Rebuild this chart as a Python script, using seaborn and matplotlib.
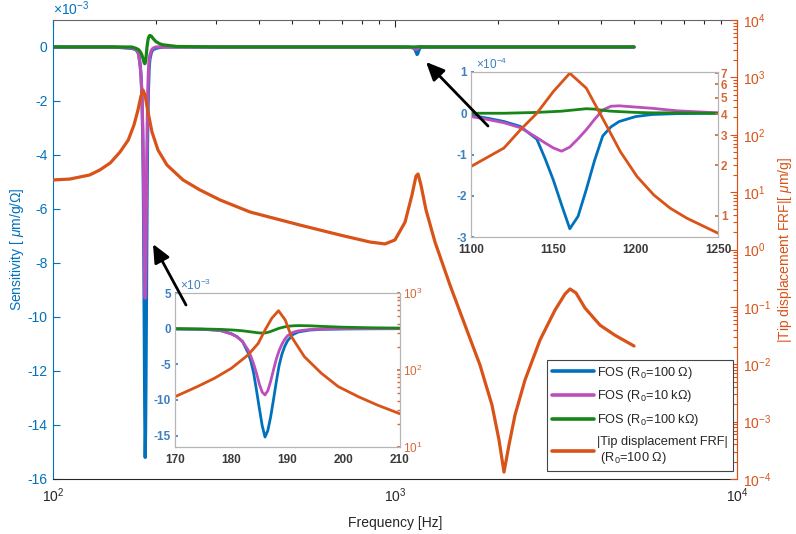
import numpy as np
import pandas as pd
import matplotlib
matplotlib.use("Agg")
import matplotlib.pyplot as plt
import seaborn as sns
from matplotlib.lines import Line2D
from matplotlib.ticker import LogLocator, NullFormatter, FixedLocator, FixedFormatter

# ---------------- data ----------------
series_names = ["FOS (R$_0$=100 $\\Omega$)", "FOS (R$_0$=10 k$\\Omega$)", "FOS (R$_0$=100 k$\\Omega$)"]
frf_name = "|Tip displacement FRF|\n (R$_0$=100 $\\Omega$)"

# first resonance region, sensitivity in units of 1e-3
freq_a = [100, 150, 170, 175, 178, 180, 181, 182, 183, 183.5, 184, 184.5, 185, 185.5, 186, 186.5,
          187, 187.5, 188, 188.5, 189, 189.5, 190, 191, 192, 194, 196, 200, 205, 210, 230, 300, 500, 800, 1000]
blue_a = [0, 0, -0.05, -0.1, -0.25, -0.7, -1.1, -1.8, -3.4, -4.6, -6.3, -8.7, -11.2, -13.6, -15.2, -14.3,
          -12.4, -10.0, -7.5, -5.2, -3.6, -2.5, -1.7, -0.8, -0.45, -0.2, -0.1, -0.05, -0.02, 0, 0, 0, 0, 0, 0]
magenta_a = [0, 0, -0.03, -0.08, -0.25, -0.75, -1.15, -1.8, -3.0, -3.9, -5.0, -6.3, -7.8, -8.9, -9.3, -8.7,
             -7.4, -5.8, -4.3, -3.1, -2.2, -1.5, -1.0, -0.5, -0.3, -0.12, -0.05, 0, 0, 0, 0, 0, 0, 0, 0]
green_a = [0, 0, 0, -0.05, -0.1, -0.18, -0.23, -0.3, -0.4, -0.45, -0.5, -0.56, -0.6, -0.62, -0.6, -0.52,
           -0.4, -0.25, -0.1, 0.05, 0.15, 0.25, 0.32, 0.4, 0.43, 0.4, 0.32, 0.2, 0.12, 0.08, 0.02, 0, 0, 0, 0]

# second resonance region, sensitivity in units of 1e-4
freq_b = [1100, 1110, 1120, 1130, 1140, 1145, 1150, 1155, 1160, 1165, 1170, 1175, 1180, 1185, 1190, 1200, 1210, 1225, 1250]
blue_b = [-0.05, -0.12, -0.2, -0.32, -0.63, -1.1, -1.62, -2.22, -2.8, -2.5, -1.85, -1.15, -0.55, -0.33, -0.2, -0.08, -0.03, -0.01, 0]
magenta_b = [-0.08, -0.15, -0.23, -0.35, -0.59, -0.72, -0.84, -0.92, -0.82, -0.62, -0.4, -0.15, 0.08, 0.17, 0.18, 0.15, 0.12, 0.06, 0.01]
green_b = [0, 0, 0, 0.01, 0.02, 0.03, 0.04, 0.05, 0.07, 0.09, 0.11, 0.1, 0.07, 0.05, 0.04, 0.02, 0.01, 0.01, 0]

# tail, sensitivity in units of 1e-3
freq_c = [1300, 2000, 3000, 5000]
blue_c = [0, 0, 0, 0]
magenta_c = [0, 0, 0, 0]
green_c = [0, 0, 0, 0]

# main tip displacement FRF magnitude [um/g]
frf_freq = [100, 112, 128, 137, 147, 157, 166, 172.5, 177.2, 180.8, 183.3, 185.8, 189.6, 194.7, 202.8, 215.4,
            240, 269, 308, 377, 527, 690, 845, 935, 1000, 1070, 1121, 1152, 1168, 1191, 1232, 1309, 1448,
            1602, 1772, 1921, 2014, 2083, 2154, 2243, 2399, 2655, 2937, 3142, 3249, 3382, 3594, 3976, 4398, 5000]
frf_mag = [16.3, 16.9, 19.9, 24.3, 32.2, 50, 81, 148, 270, 473, 603, 493, 249, 112, 54, 29.7,
           16.3, 10.9, 7.3, 4.5, 2.67, 1.79, 1.35, 1.25, 1.47, 3.0, 8.9, 19.1, 20.7, 13.3, 4.9, 1.35, 0.24,
           0.048, 0.0097, 0.00195, 4.8e-4, 1.32e-4, 3.9e-4, 1.3e-3, 5.3e-3, 0.0265, 0.088, 0.168, 0.205,
           0.175, 0.0955, 0.048, 0.032, 0.0208]

# inset FRF curves
in1_freq = [170, 174, 177, 180, 183, 184.8, 186, 187.2, 188.4, 189.6, 190.7, 193, 196, 199, 202.6, 206, 210]
in1_mag = [45, 61, 78, 105, 157, 222, 330, 469, 589, 446, 271, 149, 91, 61, 45, 35, 27]
in2_freq = [1100, 1120, 1130, 1140, 1150, 1160, 1170, 1182.6, 1190.7, 1200.8, 1211, 1221, 1231, 1250]
in2_mag = [1.96, 2.52, 3.23, 4.05, 5.44, 6.98, 5.7, 3.38, 2.40, 1.71, 1.33, 1.11, 0.97, 0.79]

left_ticks = [-16, -14, -12, -10, -8, -6, -4, -2, 0]
in1_yticks = [-15, -10, -5, 0, 5]
in1_xticks = [170, 180, 190, 200, 210]
in2_yticks = [-3, -2, -1, 0, 1]
in2_xticks = [1100, 1150, 1200, 1250]
in2_rticks = [1, 2, 3, 4, 5, 6, 7]

# ---------------- style ----------------
sns.set_theme(style="white")
plt.rcParams["font.family"] = ["Liberation Sans", "DejaVu Sans"]
plt.rcParams["mathtext.fontset"] = "custom"
plt.rcParams["mathtext.rm"] = "Liberation Sans"
plt.rcParams["mathtext.it"] = "Liberation Sans:italic"
plt.rcParams["mathtext.bf"] = "Liberation Sans:bold"
plt.rcParams["axes.unicode_minus"] = False

BLUE = "#0072BD"
MAGENTA = "#BD4FBD"
GREEN = "#178517"
ORANGE = "#D95319"
DARK = "#262626"
palette = [BLUE, MAGENTA, GREEN]

W, H = 796, 534
fig = plt.figure(figsize=(W / 100, H / 100), dpi=100)


def fr(l, t, r, b):
    return [l / W, 1 - b / H, (r - l) / W, (b - t) / H]


def long_df(freqs, cols, scale=1.0):
    rows = []
    for name, vals in zip(series_names, cols):
        for f, v in zip(freqs, vals):
            rows.append((f, v * scale, name))
    return pd.DataFrame(rows, columns=["freq", "S", "series"])


# ---------------- main axes ----------------
ax = fig.add_axes(fr(53, 20, 737, 479))
ax.set_xscale("log")
main_freq = freq_a + freq_b + freq_c
main_cols = [
    blue_a + [v / 10 for v in blue_b] + blue_c,
    magenta_a + [v / 10 for v in magenta_b] + magenta_c,
    green_a + [v / 10 for v in green_b] + green_c,
]
df_main = long_df(main_freq, main_cols)
sns.lineplot(data=df_main, x="freq", y="S", hue="series", hue_order=series_names, palette=palette,
             estimator=None, sort=False, linewidth=2.3, legend=False, ax=ax)
ax.set_xlim(100, 1e4)
ax.set_ylim(-16, 1)
ax.set_yticks(left_ticks)
ax.set_yticklabels([str(t) for t in left_ticks])
ax.set_xlabel("Frequency [Hz]", fontsize=10, color=DARK, labelpad=8)
ax.set_ylabel("Sensitivity [ $\\mu$m/g/$\\it{\\Omega}$]", fontsize=10, color=BLUE, labelpad=1)
ax.tick_params(axis="y", colors=BLUE, direction="in", right=True, labelright=False, length=5, width=0.8,
               labelsize=10, pad=4)
ax.tick_params(axis="x", which="major", colors=DARK, direction="in", top=True, length=5, width=0.8,
               labelsize=10, pad=5)
ax.tick_params(axis="x", which="minor", colors=DARK, direction="in", top=True, length=3, width=0.8)
ax.xaxis.set_minor_locator(LogLocator(base=10, subs=np.arange(2, 10), numticks=20))
ax.xaxis.set_minor_formatter(NullFormatter())
ax.spines["left"].set_color(BLUE)
ax.spines["bottom"].set_color(DARK)
ax.spines["top"].set_color("#666666")
ax.spines["right"].set_color(ORANGE)
for s in ax.spines.values():
    s.set_linewidth(0.8)
ax.text(0.0, 1.004, "\u00d710$^{-3}$", transform=ax.transAxes, color=BLUE, fontsize=10,
        ha="left", va="bottom")

ax2 = ax.twinx()
ax2.set_yscale("log")
sns.lineplot(x=frf_freq, y=frf_mag, color=ORANGE, linewidth=2.3, estimator=None, sort=False, ax=ax2)
ax2.set_xlim(100, 1e4)
ax2.set_ylim(1e-4, 1e4)
ax2.yaxis.set_major_locator(LogLocator(base=10, numticks=20))
ax2.yaxis.set_minor_locator(LogLocator(base=10, subs=np.arange(2, 10), numticks=20))
ax2.yaxis.set_minor_formatter(NullFormatter())
ax2.tick_params(axis="y", which="major", colors=ORANGE, direction="in", length=5, width=0.8, labelsize=10, pad=4)
ax2.tick_params(axis="y", which="minor", colors=ORANGE, direction="in", length=3, width=0.8)
ax2.set_ylabel("|Tip displacement FRF|[ $\\mu$m/g]", fontsize=10, color=ORANGE, labelpad=4)
ax2.set_xlabel(None)
for s in ["left", "top", "bottom"]:
    ax2.spines[s].set_visible(False)
ax2.spines["right"].set_color(ORANGE)
ax2.spines["right"].set_linewidth(0.8)

handles = [Line2D([], [], color=c, lw=2.6) for c in palette + [ORANGE]]
leg = ax2.legend(handles, series_names + [frf_name], loc="lower right",
                 bbox_to_anchor=(733 / W, 1 - 471 / H), bbox_transform=fig.transFigure,
                 frameon=True, fancybox=False, edgecolor="#444444", framealpha=1, fontsize=9.2,
                 handlelength=3.3, handletextpad=0.25, labelspacing=0.6, borderpad=0.4, borderaxespad=0)
leg.get_frame().set_linewidth(0.8)


def style_inset(a, at, ycolor="#3d7fc0"):
    a.set_facecolor("white")
    for s in a.spines.values():
        s.set_color("#b5b5b5")
        s.set_linewidth(0.8)
    for s in at.spines.values():
        s.set_color("#b5b5b5")
        s.set_linewidth(0.8)
    a.tick_params(axis="y", colors=ycolor, direction="in", length=2, labelsize=8.5, pad=3)
    a.tick_params(axis="x", colors="#3a3a3a", direction="in", length=2, labelsize=8.5, pad=5)
    at.tick_params(axis="y", which="both", colors="#d06a3a", direction="in", length=2, labelsize=8.5, pad=2)
    for lab in a.get_xticklabels() + a.get_yticklabels() + at.get_yticklabels():
        lab.set_fontweight("bold")
    a.set_xlabel("")
    a.set_ylabel("")
    at.set_xlabel(None)
    at.set_ylabel("")


# ---------------- inset 1 ----------------
axi1 = fig.add_axes(fr(175, 293, 400, 447))
df_a = long_df(freq_a, [blue_a, magenta_a, green_a])
sns.lineplot(data=df_a, x="freq", y="S", hue="series", hue_order=series_names, palette=palette,
             estimator=None, sort=False, linewidth=2.0, legend=False, ax=axi1)
axi1.set_xlim(170, 210)
axi1.set_ylim(-16.6, 5)
axi1.set_xticks(in1_xticks)
axi1.set_xticklabels([str(t) for t in in1_xticks])
axi1.set_yticks(in1_yticks)
axi1.set_yticklabels([str(t) for t in in1_yticks])
axi1t = axi1.twinx()
axi1t.set_yscale("log")
sns.lineplot(x=in1_freq, y=in1_mag, color=ORANGE, linewidth=2.0, estimator=None, sort=False, ax=axi1t)
axi1t.set_xlim(170, 210)
axi1t.set_ylim(10, 1000)
axi1t.yaxis.set_major_locator(FixedLocator([10, 100, 1000]))
axi1t.yaxis.set_major_formatter(FixedFormatter(["$10^1$", "$10^2$", "$10^3$"]))
axi1t.yaxis.set_minor_locator(LogLocator(base=10, subs=np.arange(2, 10), numticks=20))
axi1t.yaxis.set_minor_formatter(NullFormatter())
style_inset(axi1, axi1t)
axi1.text(0.02, 1.0, "\u00d710$^{-3}$", transform=axi1.transAxes, color="#3d7fc0", fontsize=8.5,
          ha="left", va="bottom")

# ---------------- inset 2 ----------------
axi2 = fig.add_axes(fr(471, 72, 718, 237))
df_b = long_df(freq_b, [blue_b, magenta_b, green_b])
sns.lineplot(data=df_b, x="freq", y="S", hue="series", hue_order=series_names, palette=palette,
             estimator=None, sort=False, linewidth=2.0, legend=False, ax=axi2)
axi2.set_xlim(1100, 1250)
axi2.set_ylim(-3, 1)
axi2.set_xticks(in2_xticks)
axi2.set_xticklabels([str(t) for t in in2_xticks])
axi2.set_yticks(in2_yticks)
axi2.set_yticklabels([str(t) for t in in2_yticks])
axi2t = axi2.twinx()
axi2t.set_yscale("log")
sns.lineplot(x=in2_freq, y=in2_mag, color=ORANGE, linewidth=2.0, estimator=None, sort=False, ax=axi2t)
axi2t.set_xlim(1100, 1250)
axi2t.set_ylim(0.75, 7.1)
axi2t.yaxis.set_major_locator(FixedLocator(in2_rticks))
axi2t.yaxis.set_major_formatter(FixedFormatter([str(t) for t in in2_rticks]))
axi2t.yaxis.set_minor_locator(FixedLocator([]))
style_inset(axi2, axi2t)
axi2.text(0.02, 1.0, "\u00d710$^{-4}$", transform=axi2.transAxes, color="#3d7fc0", fontsize=8.5,
          ha="left", va="bottom")

# ---------------- arrows ----------------
arrow_kw = dict(arrowstyle="-|>,head_length=1.0,head_width=0.45", color="black", lw=2,
                mutation_scale=11, shrinkA=0, shrinkB=0)
axi2t.annotate("", xy=(153, H - 244), xycoords="figure pixels", xytext=(186, H - 305),
               textcoords="figure pixels", arrowprops=arrow_kw)
axi2t.annotate("", xy=(426, H - 62), xycoords="figure pixels", xytext=(488, H - 126),
               textcoords="figure pixels", arrowprops=arrow_kw)

fig.savefig("out.png", dpi=100)
